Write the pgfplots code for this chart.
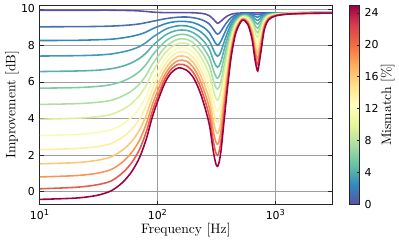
\documentclass[border=0pt]{standalone}
\usepackage{fontspec}
\usepackage{pgfplots}
\usepackage{pgfplotstable}
\pgfplotsset{compat=1.18}
\newfontfamily\ticksf{DejaVu Sans}
\definecolor{c0}{RGB}{94,79,162}
\definecolor{c1}{RGB}{68,113,178}
\definecolor{c2}{RGB}{50,136,189}
\definecolor{c3}{RGB}{66,153,182}
\definecolor{c4}{RGB}{86,177,172}
\definecolor{c5}{RGB}{126,203,165}
\definecolor{c6}{RGB}{174,222,163}
\definecolor{c7}{RGB}{215,239,155}
\definecolor{c8}{RGB}{248,252,179}
\definecolor{c9}{RGB}{254,238,162}
\definecolor{c10}{RGB}{254,199,118}
\definecolor{c11}{RGB}{249,148,85}
\definecolor{c12}{RGB}{232,90,72}
\definecolor{c13}{RGB}{158,1,66}
\pgfplotsset{colormap={spectralr}{rgb255(0cm)=(94,79,162) rgb255(1cm)=(50,136,189) rgb255(2cm)=(102,194,165) rgb255(3cm)=(171,221,164) rgb255(4cm)=(230,245,152) rgb255(5cm)=(255,255,191) rgb255(6cm)=(254,224,139) rgb255(7cm)=(253,174,97) rgb255(8cm)=(244,109,67) rgb255(9cm)=(213,62,79) rgb255(10cm)=(158,1,66)}}
\pgfplotstableread{
f k0 k1 k2 k3 k4 k5 k6 k7 k8 k9 k10 k11 k12 k13
10 9.93 9.02 8.27 7.42 6.57 5.66 4.77 3.96 3.07 2.29 1.52 0.80 0.15 -0.43
20 9.93 9.03 8.28 7.44 6.60 5.69 4.81 4.01 3.12 2.35 1.58 0.87 0.23 -0.36
30 9.93 9.04 8.31 7.47 6.64 5.75 4.88 4.09 3.22 2.45 1.70 0.99 0.36 -0.22
40 9.93 9.06 8.34 7.53 6.72 5.85 4.99 4.22 3.37 2.62 1.89 1.20 0.57 0.03
50 9.92 9.09 8.41 7.64 6.86 6.03 5.22 4.48 3.67 2.96 2.26 1.60 1.01 0.48
60 9.91 9.13 8.50 7.77 7.05 6.27 5.51 4.82 4.07 3.40 2.74 2.13 1.57 1.08
70 9.89 9.18 8.60 7.94 7.29 6.58 5.89 5.26 4.57 3.97 3.36 2.81 2.30 1.85
80 9.86 9.25 8.74 8.17 7.60 6.98 6.38 5.84 5.24 4.72 4.19 3.71 3.27 2.88
90 9.83 9.32 8.91 8.44 7.97 7.46 6.97 6.52 6.02 5.59 5.16 4.76 4.40 4.08
100 9.81 9.38 9.03 8.63 8.24 7.81 7.39 7.01 6.59 6.23 5.86 5.53 5.22 4.95
115 9.80 9.46 9.18 8.87 8.55 8.21 7.88 7.58 7.25 6.96 6.67 6.41 6.17 5.95
130 9.80 9.51 9.27 9.00 8.73 8.44 8.16 7.90 7.62 7.37 7.12 6.89 6.69 6.50
150 9.80 9.55 9.32 9.08 8.84 8.59 8.35 8.11 7.87 7.64 7.41 7.18 6.97 6.77
175 9.80 9.56 9.31 9.07 8.83 8.59 8.34 8.11 7.86 7.62 7.38 7.14 6.89 6.65
200 9.79 9.52 9.25 8.97 8.70 8.43 8.15 7.89 7.61 7.34 7.07 6.80 6.52 6.25
225 9.77 9.45 9.12 8.80 8.47 8.15 7.82 7.50 7.18 6.85 6.53 6.20 5.88 5.55
250 9.73 9.34 8.95 8.56 8.17 7.77 7.38 7.00 6.61 6.22 5.82 5.43 5.04 4.65
275 9.62 9.16 8.69 8.23 7.77 7.30 6.84 6.38 5.92 5.45 4.99 4.53 4.06 3.60
295 9.45 8.90 8.34 7.79 7.23 6.68 6.12 5.58 5.02 4.47 3.91 3.36 2.80 2.25
310 9.30 8.70 8.11 7.51 6.91 6.32 5.72 5.13 4.53 3.94 3.34 2.74 2.15 1.55
320 9.22 8.62 8.01 7.41 6.81 6.20 5.60 5.00 4.40 3.80 3.19 2.59 1.98 1.38
330 9.24 8.65 8.06 7.46 6.87 6.28 5.69 5.10 4.51 3.92 3.33 2.73 2.14 1.55
345 9.34 8.80 8.26 7.71 7.17 6.63 6.09 5.55 5.01 4.47 3.93 3.38 2.84 2.30
365 9.48 9.05 8.61 8.18 7.75 7.31 6.88 6.45 6.02 5.58 5.15 4.72 4.28 3.85
390 9.62 9.31 9.01 8.70 8.40 8.09 7.79 7.48 7.18 6.87 6.57 6.26 5.96 5.65
420 9.71 9.53 9.35 9.18 9.00 8.82 8.64 8.47 8.29 8.11 7.93 7.76 7.58 7.40
460 9.76 9.68 9.60 9.52 9.43 9.35 9.27 9.19 9.11 9.03 8.95 8.86 8.78 8.70
520 9.78 9.75 9.72 9.69 9.66 9.63 9.60 9.57 9.53 9.50 9.47 9.44 9.41 9.38
580 9.78 9.76 9.73 9.70 9.66 9.61 9.57 9.52 9.46 9.40 9.34 9.28 9.22 9.15
630 9.78 9.74 9.68 9.60 9.51 9.40 9.30 9.18 9.06 8.93 8.79 8.65 8.50 8.35
665 9.78 9.71 9.60 9.46 9.30 9.13 8.94 8.74 8.53 8.30 8.06 7.82 7.56 7.30
690 9.78 9.70 9.56 9.39 9.20 8.98 8.75 8.51 8.25 7.97 7.68 7.38 7.07 6.75
705 9.78 9.69 9.55 9.37 9.17 8.94 8.70 8.44 8.17 7.88 7.58 7.27 6.94 6.60
720 9.78 9.70 9.57 9.41 9.23 9.02 8.80 8.57 8.32 8.06 7.79 7.50 7.21 6.90
750 9.78 9.72 9.63 9.51 9.37 9.22 9.06 8.89 8.70 8.51 8.31 8.10 7.88 7.65
800 9.78 9.75 9.71 9.66 9.60 9.54 9.47 9.39 9.31 9.23 9.14 9.04 8.95 8.85
870 9.78 9.77 9.75 9.73 9.71 9.68 9.65 9.62 9.59 9.55 9.52 9.48 9.44 9.40
1000 9.78 9.78 9.77 9.76 9.75 9.74 9.73 9.71 9.70 9.68 9.67 9.65 9.64 9.62
1300 9.79 9.78 9.78 9.77 9.77 9.76 9.76 9.75 9.75 9.74 9.74 9.73 9.73 9.72
2000 9.80 9.80 9.79 9.79 9.79 9.78 9.78 9.78 9.78 9.77 9.77 9.77 9.76 9.76
3000 9.80 9.80 9.80 9.79 9.79 9.79 9.79 9.78 9.78 9.78 9.78 9.77 9.77 9.77
}\data
\begin{document}
\begin{tikzpicture}
\begin{axis}[name=main, scale only axis, width=213.7pt, height=146.1pt,
  xmode=log, log basis x=10, xmin=10, xmax=3000, ymin=-0.72, ymax=10.22,
  xtick={10,100,1000},
  xticklabels={10\textsuperscript{1},10\textsuperscript{2},10\textsuperscript{3}},
  ytick={0,2,4,6,8,10},
  grid=both,
  major grid style={black!38, line width=0.5pt},
  minor grid style={black!25, densely dotted, line width=0.5pt},
  tick align=inside, major tick length=3pt, minor tick length=1.6pt,
  axis line style={black!85, line width=0.6pt},
  tick style={black!85, line width=0.5pt},
  tick label style={font=\ticksf\fontsize{8}{9}\selectfont},
  /pgf/number format/assume math mode=true,
  xlabel={Frequency [Hz]}, ylabel={Improvement [dB]},
  xlabel style={at={(axis description cs:0.5,-0.129)}, anchor=center},
  ylabel style={at={(axis description cs:-0.0955,0.5)}, anchor=center},
]
\addplot[c0, line width=1.15pt, smooth] table[x=f, y=k0] {\data};
\addplot[c1, line width=1.15pt, smooth] table[x=f, y=k1] {\data};
\addplot[c2, line width=1.15pt, smooth] table[x=f, y=k2] {\data};
\addplot[c3, line width=1.15pt, smooth] table[x=f, y=k3] {\data};
\addplot[c4, line width=1.15pt, smooth] table[x=f, y=k4] {\data};
\addplot[c5, line width=1.15pt, smooth] table[x=f, y=k5] {\data};
\addplot[c6, line width=1.15pt, smooth] table[x=f, y=k6] {\data};
\addplot[c7, line width=1.15pt, smooth] table[x=f, y=k7] {\data};
\addplot[c8, line width=1.15pt, smooth] table[x=f, y=k8] {\data};
\addplot[c9, line width=1.15pt, smooth] table[x=f, y=k9] {\data};
\addplot[c10, line width=1.15pt, smooth] table[x=f, y=k10] {\data};
\addplot[c11, line width=1.15pt, smooth] table[x=f, y=k11] {\data};
\addplot[c12, line width=1.15pt, smooth] table[x=f, y=k12] {\data};
\addplot[c13, line width=1.15pt, smooth] table[x=f, y=k13] {\data};
\end{axis}
\begin{axis}[at={(main.north east)}, anchor=north west, xshift=13.1pt,
  scale only axis, width=7.3pt, height=146.1pt,
  xmin=0, xmax=1, ymin=0, ymax=25,
  xtick=\empty, ytick={0,4,8,12,16,20,24},
  ytick pos=right, yticklabel pos=right,
  tick align=inside, major tick length=2pt,
  axis line style={black!85, line width=0.6pt},
  tick style={black!85, line width=0.5pt},
  yticklabel style={font=\ticksf\fontsize{8}{9}\selectfont},
  /pgf/number format/assume math mode=true,
  ylabel={Mismatch [\%]},
  ylabel style={at={(axis description cs:3.78,0.5)}, anchor=center},
  colormap name=spectralr, point meta min=0, point meta max=25,
  axis on top]
\addplot[patch, shader=interp, point meta=y] coordinates {(0,0) (1,0) (1,25) (0,0) (1,25) (0,25)};
\end{axis}
\path ([shift={(-29.1pt,-26.9pt)}]main.south west) rectangle ([shift={(47.2pt,3.6pt)}]main.north east);
\end{tikzpicture}
\end{document}
